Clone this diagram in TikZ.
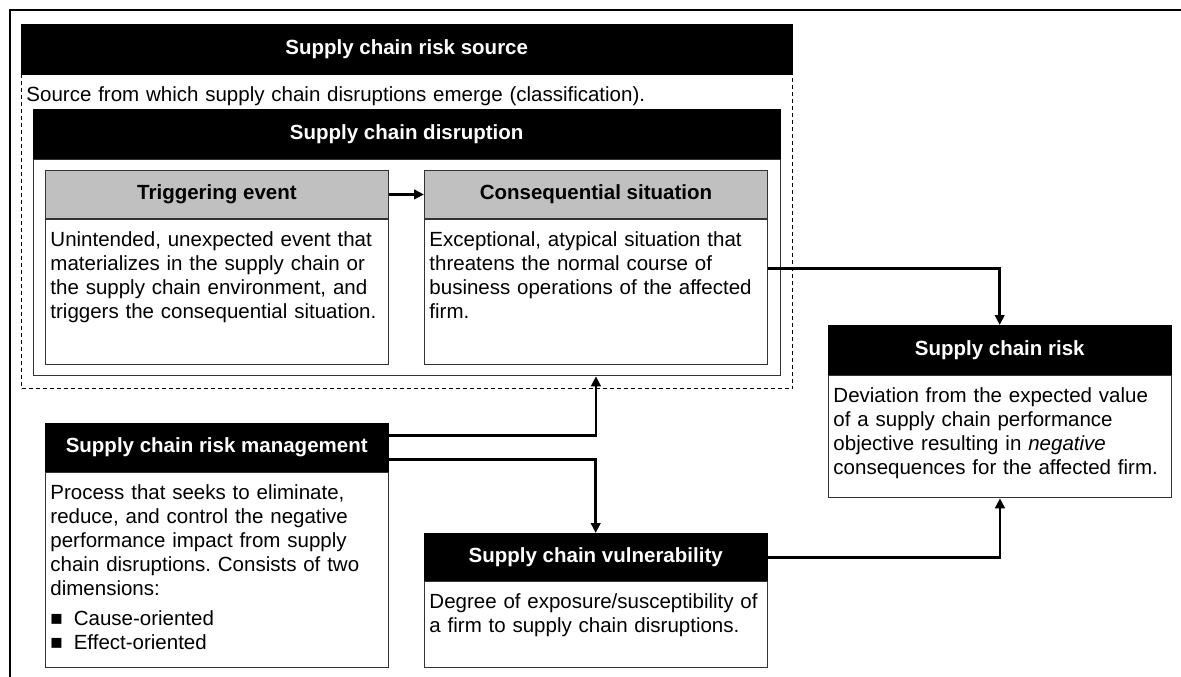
\documentclass[tikz,border=0pt]{standalone}
\usepackage{fontspec}
\setmainfont{Liberation Sans}
\usetikzlibrary{arrows.meta}
\frenchspacing
\definecolor{hdrgray}{HTML}{C0C0C0}
\definecolor{boxline}{HTML}{333333}
\newcommand{\bodyfont}{\fontsize{20.5}{24}\selectfont}
\newcommand{\hdrfont}{\bfseries\fontsize{20.5}{24}\selectfont}

\begin{document}
\begin{tikzpicture}
  [x=1pt,y=-1pt,
   hdr/.style={draw=black,fill=black,text=white,font=\hdrfont,anchor=north west,
     inner sep=0pt,minimum width=343pt,minimum height=48pt},
   grayhdr/.style={hdr,draw=boxline,line width=0.9pt,fill=hdrgray,text=black},
   body/.style={draw=boxline,line width=0.9pt,fill=white,anchor=north west,align=left,
     font=\bodyfont,inner xsep=5pt,inner ysep=6pt,text width=333pt,text height=21pt},
   conn/.style={line width=2.8pt,-{Triangle[length=10pt,width=9.5pt]}}]
  \useasboundingbox (0,0) rectangle (1181,677);
  \draw[line width=1.8pt] (10,677) -- (10,10) -- (1181,10);

  \node[hdr,minimum width=771pt,minimum height=50pt] (src) at (21,24) {Supply chain risk source};
  \node[body,draw=black,line width=1pt,dash pattern=on 4pt off 3pt,text width=761pt,text depth=281pt]
    (srcb) at (src.south west) {Source from which supply chain disruptions emerge (classification).};

  \node[hdr,minimum width=747pt,minimum height=50pt] (dis) at (33,109) {Supply chain disruption};
  \node[draw=boxline,line width=0.9pt,fill=white,anchor=north west,minimum width=747pt,minimum height=216pt]
    (disb) at (dis.south west) {};

  \node[grayhdr] (trig) at (45,170) {Triggering event};
  \node[body,text depth=112pt] (trigb) at (trig.south west)
    {Unintended, unexpected event that\\materializes in the supply chain or\\
     the supply chain environment, and\\triggers the consequential situation.};
  \node[grayhdr] (cons) at (424,170) {Consequential situation};
  \node[body,text depth=112pt] (consb) at (cons.south west)
    {Exceptional, atypical situation that\\threatens the normal course of\\
     business operations of the affected\\firm.};

  \node[hdr,minimum height=50pt] (risk) at (828,325) {Supply chain risk};
  \node[body,text depth=89pt] (riskb) at (risk.south west)
    {Deviation from the expected value\\of a supply chain performance\\
     objective resulting in \textit{negative}\\consequences for the affected firm.};

  \node[hdr,minimum height=49pt] (scrm) at (45,423) {Supply chain risk management};
  \node[body,text depth=162pt] (scrmb) at (scrm.south west)
    {Process that seeks to eliminate,\\reduce, and control the negative\\
     performance impact from supply\\chain disruptions. Consists of two\\dimensions:\\[6pt]
     ■\hspace{11pt}Cause-oriented\\■\hspace{11pt}Effect-oriented};

  \node[hdr] (vul) at (424,533) {Supply chain vulnerability};
  \node[body,text depth=53pt] (vulb) at (vul.south west)
    {Degree of exposure/susceptibility of\\a firm to supply chain disruptions.};

  \coordinate (cexit) at ([yshift=23.5pt]consb.east);
  \draw[conn] (trig) -- (cons);
  \draw[conn] (cexit) -| (risk);
  \draw[conn] ([yshift=12pt]scrm.east) -| (consb.south |- disb.south);
  \draw[conn] ([yshift=-12pt]scrm.east) -| (vul);
  \draw[conn] (vul.east) -| (riskb);
\end{tikzpicture}
\end{document}
